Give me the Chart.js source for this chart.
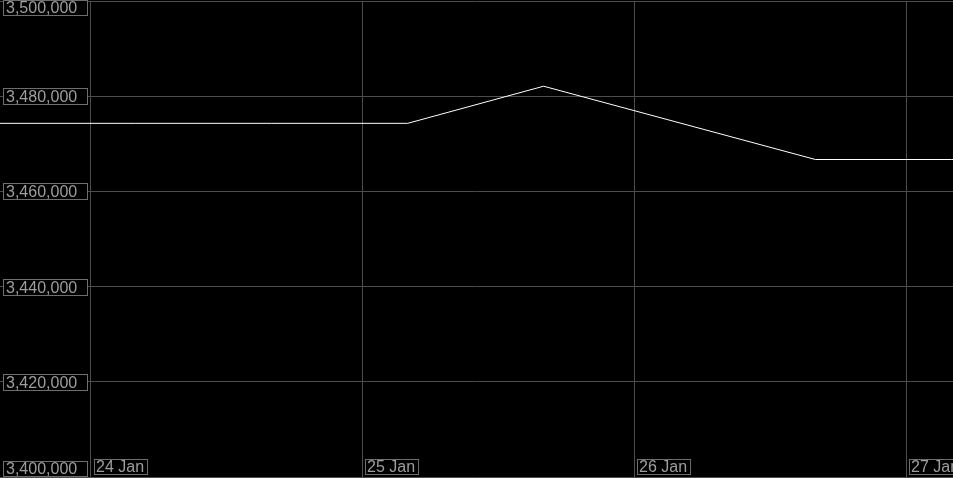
<!DOCTYPE html>
<html>
<head>
<meta charset="utf-8">
<script src="https://cdn.jsdelivr.net/npm/chart.js@4/dist/chart.umd.min.js"></script>
<style>
    html, body { margin: 0; padding: 0; background: #000; }
    #wrap { width: 953px; height: 478px; }
</style>
</head>
<body>
<div id="wrap"><canvas id="chart-area"></canvas></div>
<script>
// hours counted from 23 Jan 16:00
var hours = [0, 12, 24, 36, 48, 72, 84, 96];
var values = [3474300, 3474300, 3474300, 3474300, 3482100, 3466700, 3466700, 3466700];
var dayTicks = [8, 32, 56, 80];
var dayLabels = ["24 Jan", "25 Jan", "26 Jan", "27 Jan"];
var yMin = 3400000, yMax = 3500000, yStep = 20000;

var labelFont = "16px 'Liberation Sans', Arial, sans-serif";
var textColor = "#9e9e9e";
var boxColor = "#6e6e6e";

// draws the boxed tick labels inside the plot
var boxLabels = {
    id: "boxLabels",
    afterDraw: function (chart) {
        var c = chart.ctx;
        var ys = chart.scales.y, xs = chart.scales.x;
        c.save();
        c.font = labelFont;
        c.textBaseline = "middle";
        c.lineWidth = 1;
        for (var v = yMin; v <= yMax; v += yStep) {
            var py = Math.round(ys.getPixelForValue(v));
            var top = py - 8;
            var h = 17;
            if (top < 0) { top = 0; h = 16; }
            if (top + h > 477) { top = 461; h = 16; }
            c.fillStyle = "#000";
            c.fillRect(3, top, 85, h);
            c.strokeStyle = boxColor;
            c.strokeRect(3.5, top + 0.5, 84, h - 1);
            c.fillStyle = textColor;
            c.fillText(v.toLocaleString("en-US"), 6, top + h / 2 + 1);
        }
        for (var i = 0; i < dayTicks.length; i++) {
            var px = Math.round(xs.getPixelForValue(dayTicks[i]));
            var w = c.measureText(dayLabels[i]).width + 5;
            c.fillStyle = "#000";
            c.fillRect(px + 3, 459, w, 15);
            c.strokeStyle = boxColor;
            c.strokeRect(px + 3.5, 459.5, w, 15);
            c.fillStyle = textColor;
            c.fillText(dayLabels[i], px + 5, 468);
        }
        c.restore();
    }
};

var points = [];
for (var i = 0; i < hours.length; i++) {
    points.push({ x: hours[i], y: values[i] });
}

var ctx = document.getElementById("chart-area").getContext("2d");
var myGraph = new Chart(ctx, {
    type: "line",
    data: {
        datasets: [{
            data: points,
            borderColor: "#ffffff",
            borderWidth: 1,
            pointRadius: 0,
            tension: 0
        }]
    },
    options: {
        responsive: true,
        maintainAspectRatio: false,
        animation: false,
        layout: { padding: { top: 1, bottom: 1, left: 0, right: 0 } },
        plugins: {
            legend: { display: false },
            tooltip: { enabled: false }
        },
        scales: {
            x: {
                type: "linear",
                min: 0,
                max: 84.15,
                afterBuildTicks: function (axis) {
                    axis.ticks = dayTicks.map(function (t) { return { value: t }; });
                },
                ticks: { display: false },
                grid: { color: "#4d4d4d", drawTicks: false, tickLength: 0 },
                border: { display: false }
            },
            y: {
                min: yMin,
                max: yMax,
                ticks: { display: false, stepSize: yStep },
                grid: { color: "#4d4d4d", drawTicks: false, tickLength: 0 },
                border: { display: false }
            }
        }
    },
    plugins: [boxLabels]
});
</script>
</body>
</html>
